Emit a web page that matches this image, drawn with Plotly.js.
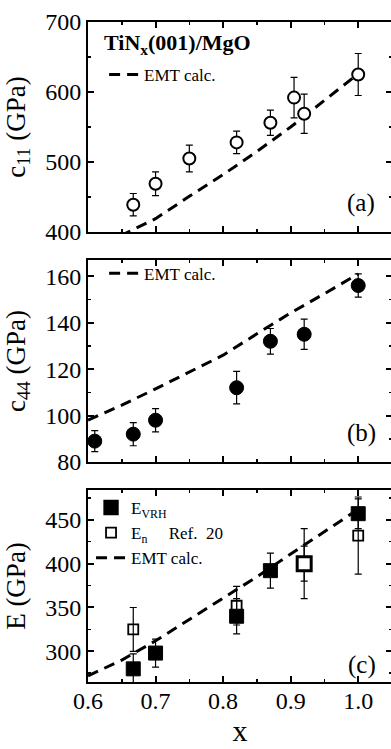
<!DOCTYPE html>
<html>
<head>
<meta charset="utf-8">
<script src="https://cdn.plot.ly/plotly-3.0.1.min.js"></script>
<style>
html, body { margin: 0; padding: 0; overflow: hidden; background: #fff; }
#chart { width: 396px; height: 749px; }
</style>
</head>
<body>
<div id="chart"></div>
<script>
// ---- data ----
const xC11 = [0.667, 0.70, 0.75, 0.82, 0.87, 0.905, 0.92, 1.0];
const c11 = [439, 469, 505, 528, 556, 592, 569, 625];
const c11Err = [16, 17, 19, 16, 18, 29, 28, 30];

const xEmtA = [0.6, 0.65, 0.7, 0.75, 0.8, 0.85, 0.9, 0.95, 1.0];
const emtA = [372, 395, 419, 451, 482, 515, 550, 588, 626];

const xC44 = [0.61, 0.667, 0.70, 0.82, 0.87, 0.92, 1.0];
const c44 = [89, 92, 98, 112, 132, 135, 156];
const c44Err = [4.5, 5, 5, 7, 5.5, 6.5, 5];

const xEmtB = [0.6, 0.65, 0.7, 0.75, 0.8, 0.85, 0.9, 0.95, 1.0];
const emtB = [98, 104.5, 111.5, 118.8, 126, 135.2, 144.2, 152.5, 161];

const xVRH = [0.667, 0.70, 0.82, 0.87, 0.92, 1.0];
const eVRH = [280, 298, 340, 392, 400, 457];
const eVRHErr = [17, 16, 20, 20, 20, 17];

const xEn = [0.667, 0.82, 0.92, 1.0];
const eN = [325, 352, 400, 432];
const eNErr = [25, 22, 40, 44];

const xEmtC = [0.6, 0.65, 0.7, 0.75, 0.8, 0.85, 0.9, 0.95, 1.0];
const emtC = [272, 290, 312, 336, 360, 385, 411, 437, 462];

const xTickVals = [0.6, 0.7, 0.8, 0.9, 1.0];
const xTickText = ['0.6', '0.7', '0.8', '0.9', '1.0'];

// ---- styling ----
const FONT = 'Liberation Serif';
const dash = '11px,7px';
const errStyle = (arr) => ({ type: 'data', array: arr, visible: true, color: '#000', thickness: 1.2, width: 3.5 });

const traces = [
  { x: xEmtA, y: emtA, xaxis: 'x', yaxis: 'y', mode: 'lines', name: 'EMT calc.',
    line: { color: '#000', width: 3, dash: dash }, legend: 'legend', showlegend: true },
  { x: xC11, y: c11, xaxis: 'x', yaxis: 'y', mode: 'markers', showlegend: false,
    error_y: errStyle(c11Err),
    marker: { symbol: 'circle', size: 12, color: '#fff', line: { color: '#000', width: 2 } } },

  { x: xEmtB, y: emtB, xaxis: 'x2', yaxis: 'y2', mode: 'lines', name: 'EMT calc.',
    line: { color: '#000', width: 3, dash: dash }, legend: 'legend2', showlegend: true },
  { x: xC44, y: c44, xaxis: 'x2', yaxis: 'y2', mode: 'markers', showlegend: false,
    error_y: errStyle(c44Err),
    marker: { symbol: 'circle', size: 14, color: '#000', line: { color: '#000', width: 1 } } },

  { x: xEmtC, y: emtC, xaxis: 'x3', yaxis: 'y3', mode: 'lines', name: 'EMT calc.',
    line: { color: '#000', width: 3, dash: dash }, legend: 'legend3', legendrank: 3, showlegend: true },
  { x: xEn, y: eN, xaxis: 'x3', yaxis: 'y3', mode: 'markers',
    name: 'E<sub>n</sub>\u00a0\u00a0\u00a0\u00a0\u00a0Ref.\u00a0 20',
    legend: 'legend3', legendrank: 2,
    error_y: errStyle(eNErr),
    marker: { symbol: 'square-open', size: 10, color: '#000', line: { color: '#000', width: 1.8 } } },
  { x: xVRH, y: eVRH, xaxis: 'x3', yaxis: 'y3', mode: 'markers', name: 'E<sub>VRH</sub>',
    legend: 'legend3', legendrank: 1,
    error_y: errStyle(eVRHErr),
    marker: { symbol: 'square', size: 14,
      color: ['#000', '#000', '#000', '#000', '#fff', '#000'],
      line: { color: '#000', width: [1, 1, 1, 1, 3, 1] } } }
];

function xAxis(anchor, labels) {
  return {
    anchor: anchor, range: [0.6, 1.05], tickmode: 'array', tickvals: xTickVals, ticktext: xTickText,
    showticklabels: labels, ticks: 'inside', ticklen: 6, tickwidth: 2, tickcolor: '#000',
    showline: true, linewidth: 2, linecolor: '#000', mirror: 'allticks',
    showgrid: false, zeroline: false,
    minor: { dtick: 0.05, tick0: 0.6, ticks: 'inside', ticklen: 3, tickwidth: 1.5, tickcolor: '#000', showgrid: false },
    tickfont: { family: FONT, size: 24, color: '#000' }
  };
}
function yAxis(anchor, domain, range, dtick, minorDtick, titleText) {
  return {
    anchor: anchor, domain: domain, range: range, dtick: dtick,
    ticks: 'inside', ticklen: 6, tickwidth: 2, tickcolor: '#000',
    showline: true, linewidth: 2, linecolor: '#000', mirror: 'allticks',
    showgrid: false, zeroline: false,
    minor: { dtick: minorDtick, ticks: 'inside', ticklen: 3, tickwidth: 1.5, tickcolor: '#000', showgrid: false },
    tickfont: { family: FONT, size: 24, color: '#000' },
    title: { text: titleText, font: { family: FONT, size: 27, color: '#000' }, standoff: 12 }
  };
}

const legendBase = {
  bgcolor: 'rgba(0,0,0,0)', borderwidth: 0, xanchor: 'left', yanchor: 'top',
  font: { family: FONT, size: 17, color: '#000' }, itemwidth: 30, tracegroupgap: 0,
  xref: 'paper', yref: 'paper'
};

const layout = {
  width: 396, height: 749,
  margin: { l: 88, r: 4, t: 22, b: 67 },
  paper_bgcolor: '#fff', plot_bgcolor: '#fff',
  font: { family: FONT, color: '#000' },
  xaxis: xAxis('y', false),
  xaxis2: xAxis('y2', false),
  xaxis3: Object.assign(xAxis('y3', true), {
    ticklabelstandoff: -4,
    title: { text: 'x', font: { family: FONT, size: 30, color: '#000' }, standoff: 0 }
  }),
  yaxis: yAxis('x', [0.6818, 1], [400, 700], 100, 50, 'c<sub>11</sub> (GPa)'),
  yaxis2: yAxis('x2', [0.3333, 0.6394], [80, 167], 20, 10, 'c<sub>44</sub> (GPa)'),
  yaxis3: yAxis('x3', [0, 0.2909], [265, 484], 50, 25, 'E (GPa)'),
  legend: Object.assign({}, legendBase, { x: 0.053, y: 0.947 }),
  legend2: Object.assign({}, legendBase, { x: 0.053, y: 0.646 }),
  legend3: Object.assign({}, legendBase, { x: 0.01, y: 0.291 }),
  annotations: [
    { text: '<b>TiN<sub>x</sub>(001)/MgO</b>', xref: 'paper', yref: 'paper', x: 0.046, y: 0.9667,
      xanchor: 'left', yanchor: 'middle', showarrow: false, font: { family: FONT, size: 22, color: '#000' } },
    { text: '(a)', xref: 'paper', yref: 'paper', x: 0.898, y: 0.7258, xanchor: 'center', yanchor: 'middle',
      showarrow: false, font: { family: FONT, size: 25, color: '#000' } },
    { text: '(b)', xref: 'paper', yref: 'paper', x: 0.901, y: 0.3773, xanchor: 'center', yanchor: 'middle',
      showarrow: false, font: { family: FONT, size: 25, color: '#000' } },
    { text: '(c)', xref: 'paper', yref: 'paper', x: 0.901, y: 0.0258, xanchor: 'center', yanchor: 'middle',
      showarrow: false, font: { family: FONT, size: 25, color: '#000' } }
  ]
};

Plotly.newPlot('chart', traces, layout, { staticPlot: true, displayModeBar: false });
</script>
</body>
</html>
